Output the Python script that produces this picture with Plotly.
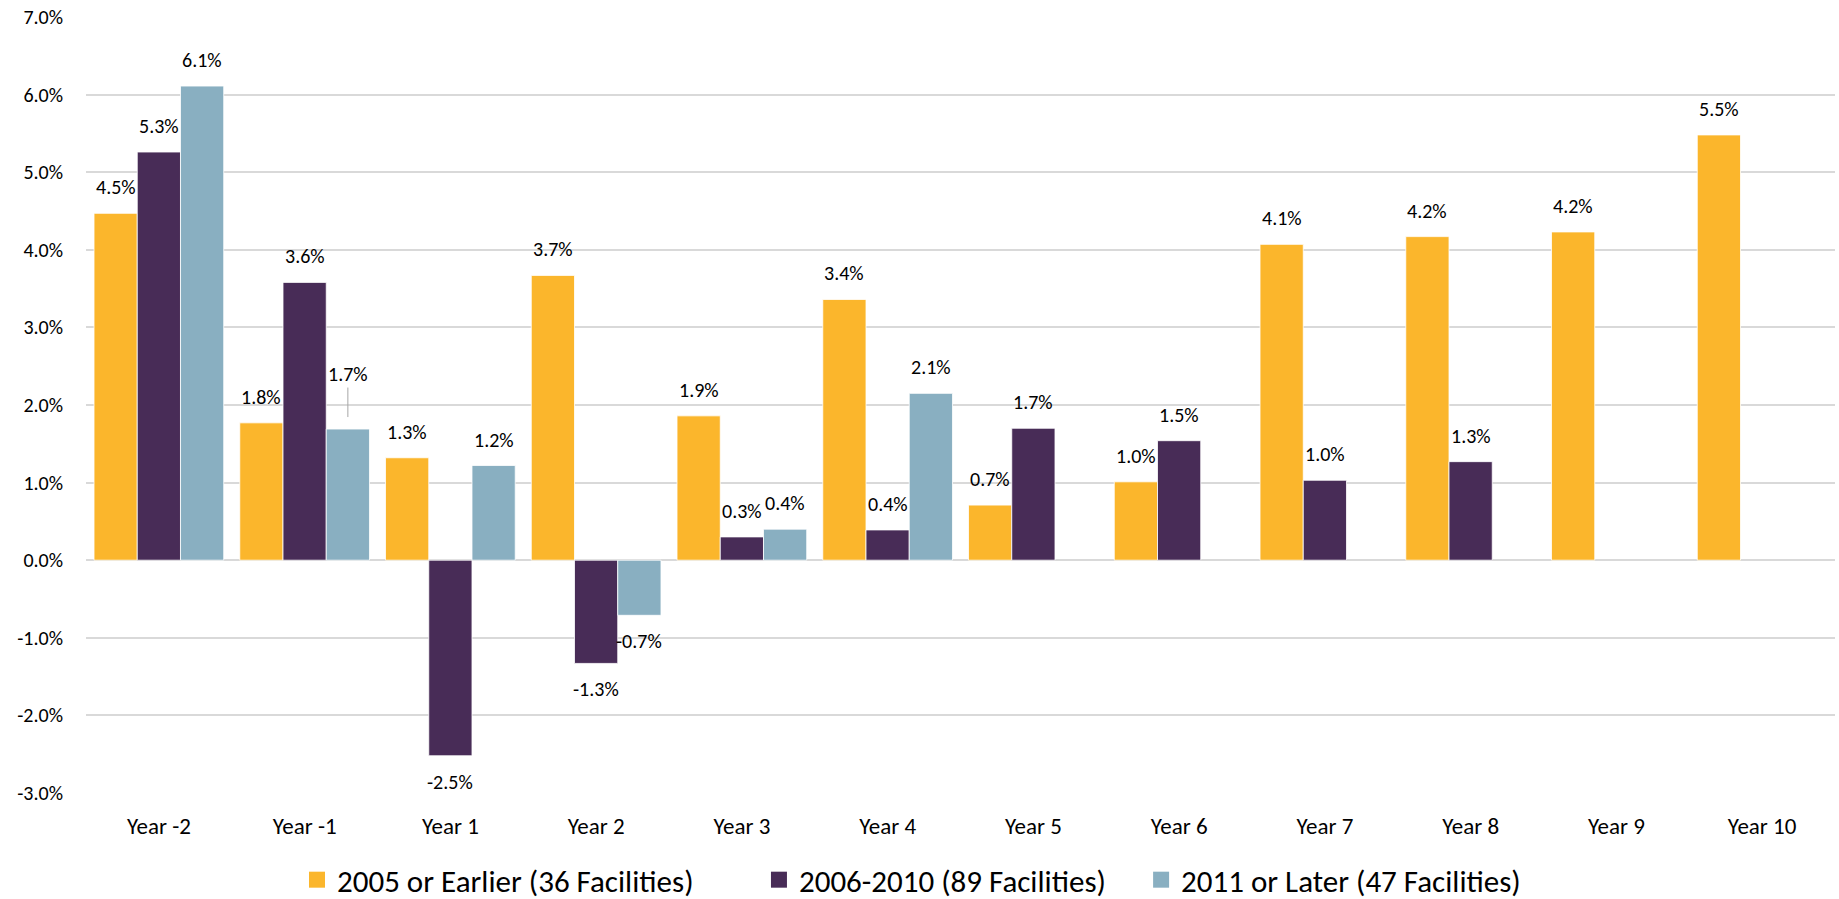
import plotly.graph_objects as go

categories = ["Year -2", "Year -1", "Year 1", "Year 2", "Year 3", "Year 4",
              "Year 5", "Year 6", "Year 7", "Year 8", "Year 9", "Year 10"]
series_names = ["2005 or Earlier (36 Facilities)", "2006-2010 (89 Facilities)", "2011 or Later (47 Facilities)"]
early = [4.47, 1.77, 1.32, 3.67, 1.86, 3.36, 0.71, 1.01, 4.07, 4.17, 4.23, 5.48]
mid = [5.26, 3.58, -2.52, -1.33, 0.30, 0.39, 1.70, 1.54, 1.03, 1.27, None, None]
late = [6.11, 1.69, 1.22, -0.71, 0.40, 2.15, None, None, None, None, None, None]
y_ticks = [-3, -2, -1, 0, 1, 2, 3, 4, 5, 6, 7]
colors = ["#FBB62C", "#482C57", "#89AFC1"]

FONT = "Calibri, Carlito, Lato, 'Open Sans', sans-serif"
FS = 20

L, R, T, B = 86, 4, 17, 106
W, H = 1839, 899
BARGAP = 0.11
plot_w = W - L - R
cat_w = plot_w / len(categories)
bar_w = cat_w * (1 - BARGAP) / 3
LABEL_OFF = 26
legend_x = [0.1615, 0.4127, 0.6205]
legend_ids = ["legend", "legend2", "legend3"]

fig = go.Figure()
annotations = []
for i, (name, vals, col) in enumerate(zip(series_names, [early, mid, late], colors)):
    fig.add_trace(go.Bar(
        x=categories, y=vals, name=name, showlegend=False,
        marker=dict(color=col, line=dict(color="white", width=0.8)),
    ))
    for j, v in enumerate(vals):
        if v is None:
            continue
        ann = dict(x=categories[j], y=v, xref="x", yref="y", text=f"{v:.1f}%",
                   showarrow=False, xshift=(i - 1) * bar_w,
                   yshift=LABEL_OFF if v >= 0 else -LABEL_OFF, yanchor="middle",
                   font=dict(family=FONT, size=FS, color="#000000"))
        if i == 2 and j == 1:
            # label dragged up with a leader line, as in the original
            ann.update(showarrow=True, arrowhead=0, arrowwidth=1, arrowcolor="#A6A6A6",
                       ax=0, ay=-55, yshift=0, standoff=12, xshift=(i - 1) * bar_w)
        annotations.append(ann)

# legend swatches (square markers) – one legend per series
for i, (name, col) in enumerate(zip(series_names, colors)):
    fig.add_trace(go.Scatter(
        x=[None], y=[None], mode="markers", name=name,
        marker=dict(symbol="square", size=18, color=col),
        legend=legend_ids[i], hoverinfo="skip",
    ))

legend_common = dict(orientation="h", xanchor="left", yanchor="middle",
                     xref="container", yref="container", y=0.0211,
                     itemsizing="trace", bgcolor="rgba(0,0,0,0)",
                     font=dict(family=FONT, size=31, color="#000000"))

fig.update_layout(
    barmode="group", bargap=BARGAP, bargroupgap=0,
    width=W, height=H,
    margin=dict(l=L, r=R, t=T, b=B, autoexpand=False),
    plot_bgcolor="white", paper_bgcolor="white",
    font=dict(family=FONT, size=FS, color="#000000"),
    annotations=annotations,
    legend=dict(x=legend_x[0], **legend_common),
    legend2=dict(x=legend_x[1], **legend_common),
    legend3=dict(x=legend_x[2], **legend_common),
    showlegend=True,
)
fig.update_xaxes(range=[-0.5, len(categories) - 0.5], autorange=False,
                 showgrid=False, showline=False, ticks="", ticklabelstandoff=17,
                 automargin=False, tickfont=dict(family=FONT, size=23))
fig.update_yaxes(range=[-3, 7], tickmode="array", tickvals=y_ticks,
                 ticktext=[f"{t:.1f}%" for t in y_ticks],
                 showgrid=True, gridcolor="#D9D9D9", gridwidth=1.5,
                 zeroline=True, zerolinecolor="#D9D9D9", zerolinewidth=1.5,
                 showline=False, ticks="", ticklabelstandoff=22, automargin=False,
                 tickfont=dict(family=FONT, size=FS))

fig.write_html("out.html", config={"displayModeBar": False},
               post_script="document.body.style.margin='0';")
